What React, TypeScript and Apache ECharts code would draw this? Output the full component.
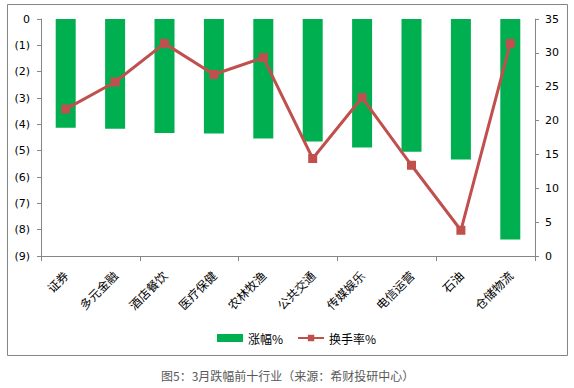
import React, { useEffect, useRef } from "react";
import * as echarts from "echarts";

const categories = ["证券", "多元金融", "酒店餐饮", "医疗保健", "农林牧渔", "公共交通", "传媒娱乐", "电信运营", "石油", "仓储物流"];
const changePct = [-4.13, -4.17, -4.33, -4.35, -4.54, -4.65, -4.88, -5.04, -5.34, -8.37];
const turnoverPct = [21.7, 25.7, 31.4, 26.8, 29.3, 14.4, 23.4, 13.4, 3.8, 31.4];
const caption = "图5：3月跌幅前十行业（来源：希财投研中心）";

export default function App() {
  const ref = useRef<HTMLDivElement>(null);
  useEffect(() => {
    document.body.style.margin = "0";
    const chart = echarts.init(ref.current!, null, { renderer: "svg" });
    const axisGray = "#868686";
    const numFont = "'DejaVu Sans', Verdana, sans-serif";
    const cjkFont = "'Noto Sans CJK SC', sans-serif";
    chart.setOption({
      animation: false,
      backgroundColor: "#fff",
      grid: { left: 41, right: 39, top: 19, bottom: 132, containLabel: false },
      legend: {
        left: 212,
        top: 327,
        itemWidth: 26,
        itemHeight: 8,
        itemGap: 14,
        textStyle: { fontSize: 12, color: "#000", fontFamily: cjkFont },
        data: [
          { name: "涨幅%", icon: "rect" },
          { name: "换手率%" },
        ],
      },
      xAxis: [
        {
          type: "category",
          data: categories,
          position: "bottom",
          axisLine: { show: false },
          axisTick: { show: false },
          axisLabel: {
            rotate: 45,
            margin: 17,
            interval: 0,
            fontSize: 12,
            color: "#000",
            fontFamily: cjkFont,
          },
        },
        {
          type: "category",
          data: categories,
          position: "top",
          axisLine: { show: true, lineStyle: { color: axisGray, width: 1 } },
          axisTick: { show: true, inside: true, length: 5, lineStyle: { color: axisGray } },
          axisLabel: { show: false },
        },
      ],
      yAxis: [
        {
          type: "value",
          min: -9,
          max: 0,
          interval: 1,
          position: "left",
          splitLine: { show: false },
          axisLine: { show: true, lineStyle: { color: axisGray } },
          axisTick: { show: true, length: 4, lineStyle: { color: axisGray } },
          axisLabel: {
            margin: 11,
            fontSize: 11,
            color: "#000",
            fontFamily: numFont,
            formatter: (v: number) => (v === 0 ? "0" : "(" + Math.abs(v) + ")"),
          },
        },
        {
          type: "value",
          min: 0,
          max: 35,
          interval: 5,
          position: "right",
          splitLine: { show: false },
          axisLine: { show: true, lineStyle: { color: axisGray } },
          axisTick: { show: true, length: 4, lineStyle: { color: axisGray } },
          axisLabel: { margin: 10, fontSize: 11, color: "#000", fontFamily: numFont },
        },
      ],
      series: [
        {
          name: "涨幅%",
          type: "bar",
          xAxisIndex: 0,
          yAxisIndex: 0,
          data: changePct,
          barWidth: 20,
          itemStyle: { color: "#00B050" },
        },
        {
          name: "换手率%",
          type: "line",
          xAxisIndex: 0,
          yAxisIndex: 1,
          data: turnoverPct,
          symbol: "rect",
          symbolSize: 9,
          lineStyle: { color: "#C0504D", width: 3 },
          itemStyle: { color: "#C0504D" },
        },
      ],
      graphic: [
        {
          type: "rect",
          shape: { x: 7.5, y: 4.5, width: 560, height: 351 },
          style: { fill: "none", stroke: axisGray, lineWidth: 1 },
          silent: true,
        },
        {
          type: "text",
          left: 161,
          top: 369,
          style: { text: caption, fontSize: 12, fill: "#595959", fontFamily: cjkFont },
        },
      ],
    });
    return () => chart.dispose();
  }, []);
  return <div ref={ref} style={{ width: 574, height: 388 }} />;
}
